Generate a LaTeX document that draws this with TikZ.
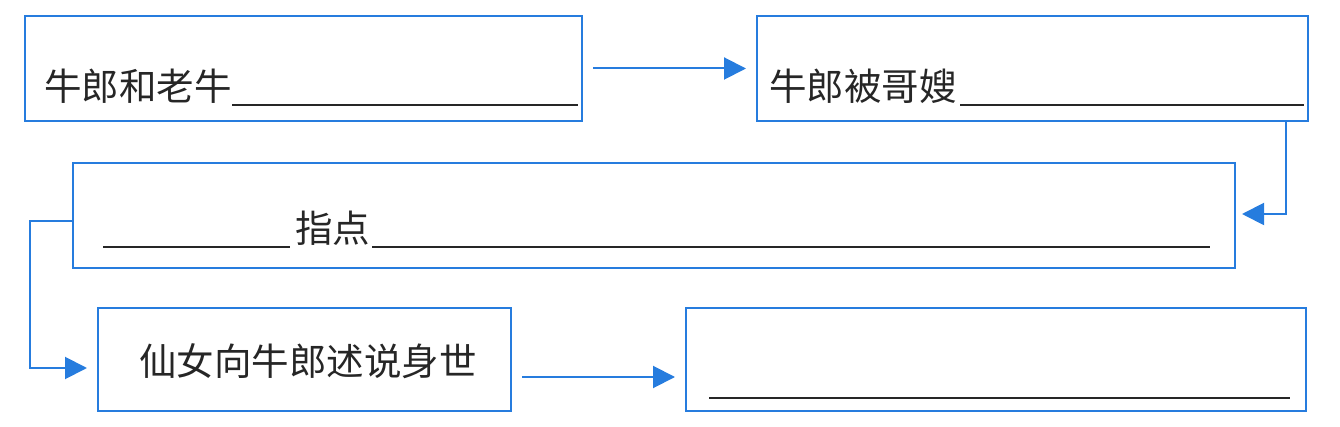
\documentclass[tikz,border=0pt]{standalone}
\usepackage{fontspec}
\newfontfamily\cjk{Noto Sans CJK SC}
\usetikzlibrary{arrows.meta}
\definecolor{lineblue}{RGB}{38,124,222}
\tikzset{
  box/.style={draw=lineblue, line width=2pt, rectangle, inner sep=0pt},
  conn/.style={draw=lineblue, line width=2pt, -{Triangle[length=22pt,width=22pt]}},
  label/.style={inner sep=0pt, font=\cjk\fontsize{37.5}{44}\selectfont, text=black!85},
  blank/.style={draw=black!85, line width=2.2pt}
}
\begin{document}
\begin{tikzpicture}[x=1pt,y=-1pt]
\useasboundingbox (0,0) rectangle (1340,427);
% boxes
\node[box, minimum width=557pt, minimum height=105pt] (b1) at (303.5,68.5) {};
\node[box, minimum width=551pt, minimum height=105pt] (b2) at (1032.5,68.5) {};
\node[box, minimum width=1162pt, minimum height=105pt] (b3) at (654,215.5) {};
\node[box, minimum width=413pt, minimum height=103pt] (b4) at (304.5,359.5) {};
\node[box, minimum width=620pt, minimum height=103pt] (b5) at (996,359.5) {};
% texts
\node[label, anchor=base west] (t1) at (44,101) {牛郎和老牛};
\draw[blank] (232,105) -- (578,105);
\node[label, anchor=base west] (t2) at (769,101) {牛郎被哥嫂};
\draw[blank] (960,105) -- (1304,105);
\draw[blank] (103,247) -- (290,247);
\node[label, anchor=base west] (t3) at (295,243) {指点};
\draw[blank] (372,247) -- (1210,247);
\node[label, anchor=base west] (t4) at (139,375) {仙女向牛郎述说身世};
\draw[blank] (709,398) -- (1290,398);
% connectors
\coordinate (c2a) at (1286,121);
\coordinate (c2b) at (1286,214);
\coordinate (c3a) at (30,221);
\coordinate (c3b) at (30,368);
\coordinate (c4) at (0,377);
\draw[conn] ([xshift=10pt]b1.east) -- ([xshift=-10pt]b2.west);
\draw[conn] (b2.south -| c2a) -- (c2b) -- ([xshift=6pt]c2b -| b3.east);
\draw[conn] (c3a -| b3.west) -- (c3a) -- (c3b) -- ([xshift=-10pt]c3b -| b4.west);
\draw[conn] ([xshift=10pt]c4 -| b4.east) -- ([xshift=-10pt]c4 -| b5.west);
\end{tikzpicture}
\end{document}
